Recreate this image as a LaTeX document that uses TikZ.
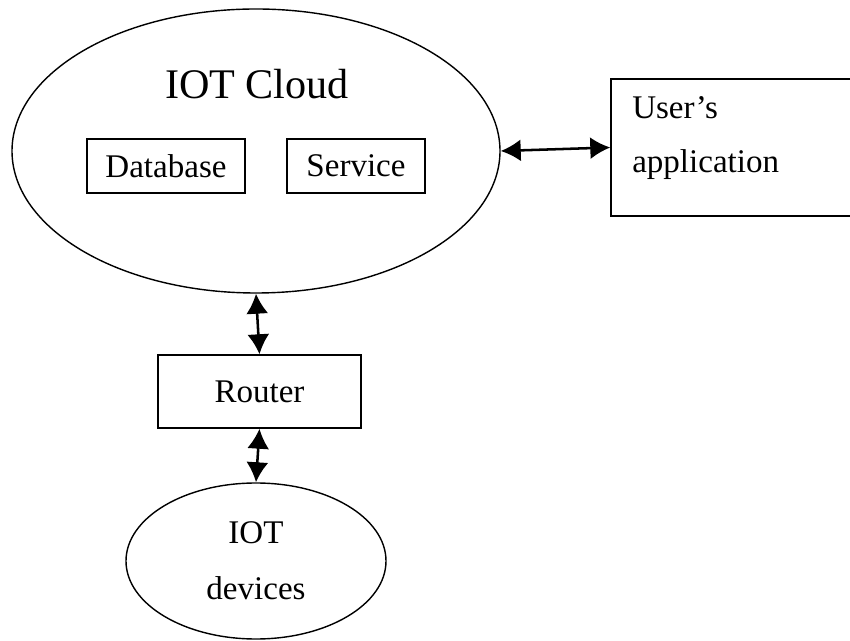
\documentclass[tikz,border=0pt]{standalone}
\usepackage{fontspec}
\setmainfont{Liberation Serif}
\usetikzlibrary{shapes,arrows.meta,positioning}

\begin{document}
\begin{tikzpicture}[
    box/.style={draw, line width=1pt, inner sep=0pt, font=\fontsize{23.5}{28}\selectfont},
    link/.style={{Latex[length=5mm,width=5.5mm]}-{Latex[length=5mm,width=5.5mm]}, line width=1.8pt}]
    \useasboundingbox (0,0) rectangle (21.25,16.025);
    % cloud side
    \node[draw, ellipse, line width=1pt, minimum width=12.2cm, minimum height=7.1cm] (cloud) at (6.4,12.25) {};
    \node[font=\fontsize{30}{36}\selectfont] (title) at (6.425,13.925) {IOT Cloud};
    \node[box, minimum width=3.95cm, minimum height=1.35cm] (db) at (4.15,11.875) {Database};
    \node[box, minimum width=3.45cm, minimum height=1.35cm] (srv) at (8.9,11.875) {Service};
    % user side
    \node[box, minimum width=6.475cm, minimum height=3.425cm] (user) at (18.5125,12.3375) {};
    \node[align=left, anchor=west, inner sep=0pt, font=\fontsize{23.5}{38.4}\selectfont] (usertext) at (15.8,12.5625) {User's\\application};
    % devices side
    \node[box, minimum width=5.075cm, minimum height=1.825cm] (router) at (6.4875,6.2375) {Router};
    \node[draw, ellipse, line width=1pt, inner sep=0pt, minimum width=6.5cm, minimum height=3.9cm, align=center, font=\fontsize{23.5}{39.8}\selectfont] (dev) at (6.4,2.0) {IOT\\devices};
    \draw[link] (cloud.east) -- (user.west);
    \draw[link] (cloud.south) -- (router.north);
    \draw[link] (router.south) -- (dev.north);
\end{tikzpicture}
\end{document}
